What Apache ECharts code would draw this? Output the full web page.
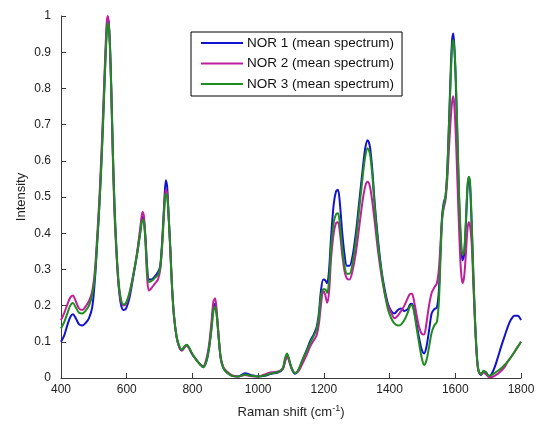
<!DOCTYPE html>
<html>
<head>
<meta charset="utf-8">
<script src="https://cdn.jsdelivr.net/npm/echarts@6/dist/echarts.min.js"></script>
<style>
html,body{margin:0;padding:0;background:#fff;}
#chart{width:547px;height:425px;}
</style>
</head>
<body>
<div id="chart"></div>
<script>
// Raman shift positions (cm^-1)
var shifts = [400,410,420,428,436,445,455,465,475,485,495,503,510,517,524,530,535,539,542,545,549,553,558,563,569,575,582,590,598,608,620,632,642,648,652,657,662,667,675,685,695,702,708,714,719,723,728,733,738,744,752,760,768,776,783,790,800,812,823,833,843,851,858,864,869,874,880,886,894,905,920,940,960,980,1000,1020,1040,1060,1075,1082,1088,1094,1102,1112,1122,1135,1148,1160,1170,1178,1185,1191,1198,1204,1210,1216,1222,1230,1237,1243,1249,1256,1263,1270,1278,1288,1298,1308,1318,1326,1333,1340,1347,1355,1365,1375,1385,1395,1405,1415,1425,1435,1445,1455,1462,1468,1474,1482,1490,1498,1505,1512,1520,1528,1536,1544,1550,1555,1560,1565,1570,1575,1580,1585,1590,1594,1598,1602,1607,1612,1617,1622,1627,1632,1637,1641,1645,1650,1655,1660,1665,1670,1678,1686,1694,1702,1710,1720,1730,1740,1750,1760,1770,1780,1790,1800];

var nor1 = [0.100,0.118,0.148,0.168,0.176,0.165,0.148,0.145,0.152,0.165,0.195,0.270,0.370,0.480,0.620,0.760,0.880,0.960,0.990,0.985,0.920,0.800,0.620,0.470,0.350,0.260,0.205,0.188,0.192,0.220,0.280,0.345,0.410,0.445,0.440,0.390,0.310,0.272,0.272,0.280,0.292,0.310,0.380,0.480,0.546,0.530,0.440,0.350,0.250,0.170,0.112,0.085,0.076,0.086,0.091,0.082,0.065,0.050,0.038,0.030,0.048,0.085,0.140,0.195,0.205,0.175,0.110,0.055,0.028,0.015,0.006,0.004,0.013,0.008,0.004,0.006,0.012,0.015,0.025,0.050,0.066,0.050,0.025,0.012,0.020,0.050,0.078,0.105,0.122,0.140,0.180,0.240,0.272,0.270,0.262,0.300,0.390,0.480,0.515,0.520,0.480,0.400,0.340,0.310,0.310,0.340,0.405,0.490,0.575,0.635,0.657,0.640,0.580,0.480,0.380,0.300,0.245,0.205,0.185,0.178,0.188,0.192,0.185,0.190,0.203,0.205,0.190,0.150,0.110,0.078,0.068,0.085,0.130,0.178,0.190,0.195,0.240,0.350,0.450,0.485,0.500,0.560,0.680,0.820,0.930,0.952,0.900,0.800,0.640,0.480,0.370,0.325,0.340,0.420,0.520,0.555,0.530,0.420,0.280,0.160,0.070,0.022,0.008,0.018,0.015,0.005,0.010,0.030,0.058,0.088,0.115,0.142,0.162,0.172,0.172,0.160];

var nor2 = [0.160,0.180,0.205,0.222,0.228,0.212,0.192,0.188,0.198,0.212,0.240,0.295,0.390,0.500,0.640,0.780,0.900,0.980,1.000,0.985,0.910,0.790,0.600,0.450,0.340,0.260,0.215,0.200,0.205,0.230,0.285,0.350,0.420,0.459,0.450,0.380,0.280,0.242,0.248,0.260,0.272,0.300,0.370,0.470,0.520,0.510,0.440,0.350,0.250,0.170,0.112,0.085,0.076,0.085,0.090,0.082,0.065,0.050,0.038,0.033,0.055,0.095,0.155,0.212,0.220,0.185,0.115,0.058,0.030,0.018,0.008,0.004,0.008,0.005,0.004,0.010,0.016,0.018,0.025,0.045,0.060,0.048,0.028,0.014,0.018,0.040,0.065,0.090,0.105,0.118,0.150,0.200,0.240,0.230,0.208,0.240,0.330,0.400,0.428,0.430,0.400,0.340,0.295,0.275,0.272,0.300,0.350,0.420,0.490,0.530,0.542,0.530,0.490,0.430,0.350,0.285,0.235,0.200,0.180,0.165,0.172,0.185,0.200,0.220,0.232,0.233,0.215,0.175,0.140,0.122,0.120,0.150,0.200,0.235,0.250,0.262,0.300,0.370,0.440,0.470,0.490,0.540,0.620,0.700,0.760,0.778,0.740,0.660,0.530,0.400,0.300,0.262,0.280,0.340,0.410,0.430,0.420,0.370,0.260,0.150,0.065,0.022,0.010,0.015,0.010,0.003,0.003,0.006,0.012,0.020,0.030,0.046,0.058,0.072,0.086,0.100];

var nor3 = [0.137,0.155,0.180,0.200,0.207,0.195,0.180,0.178,0.186,0.200,0.230,0.280,0.375,0.480,0.610,0.750,0.870,0.950,0.980,0.975,0.920,0.800,0.620,0.470,0.350,0.270,0.220,0.203,0.208,0.235,0.285,0.345,0.405,0.437,0.432,0.380,0.300,0.265,0.268,0.276,0.285,0.305,0.370,0.460,0.510,0.505,0.440,0.350,0.250,0.170,0.114,0.088,0.078,0.088,0.092,0.084,0.066,0.050,0.038,0.030,0.048,0.085,0.135,0.185,0.197,0.172,0.110,0.055,0.028,0.015,0.006,0.004,0.010,0.006,0.004,0.007,0.013,0.016,0.028,0.055,0.068,0.052,0.027,0.013,0.022,0.050,0.075,0.100,0.118,0.135,0.170,0.225,0.245,0.245,0.235,0.270,0.360,0.430,0.452,0.455,0.425,0.360,0.310,0.288,0.288,0.320,0.385,0.470,0.555,0.612,0.635,0.620,0.565,0.470,0.370,0.295,0.235,0.190,0.165,0.150,0.145,0.148,0.160,0.180,0.198,0.202,0.185,0.140,0.095,0.055,0.036,0.048,0.085,0.125,0.145,0.155,0.210,0.330,0.440,0.480,0.500,0.560,0.680,0.800,0.910,0.934,0.900,0.820,0.660,0.500,0.390,0.340,0.350,0.430,0.530,0.556,0.540,0.430,0.290,0.165,0.075,0.025,0.010,0.020,0.015,0.006,0.008,0.014,0.020,0.027,0.036,0.046,0.058,0.072,0.086,0.100];

var seriesNames = ['NOR 1 (mean spectrum)', 'NOR 2 (mean spectrum)', 'NOR 3 (mean spectrum)'];
var seriesColors = ['#1212cc', '#bf1f9c', '#1e8c1e'];
var xTicks = [400, 600, 800, 1000, 1200, 1400, 1600, 1800];
var yTicks = [0, 0.1, 0.2, 0.3, 0.4, 0.5, 0.6, 0.7, 0.8, 0.9, 1];

function pairs(vals) { return shifts.map(function (x, i) { return [x, vals[i]]; }); }

var font = 'Liberation Sans, Arial, sans-serif';
var axisColor = '#3a3a3a';
var chart = echarts.init(document.getElementById('chart'), null, {renderer: 'canvas'});
chart.setOption({
  animation: false,
  backgroundColor: '#ffffff',
  grid: {left: 61, right: 26, top: 16, bottom: 47, containLabel: false},
  legend: {
    orient: 'vertical',
    left: 191, top: 32,
    padding: [4, 8, 5, 9],
    itemWidth: 42, itemHeight: 14, itemGap: 6.5,
    borderColor: '#000', borderWidth: 1, backgroundColor: '#fff',
    itemStyle: {opacity: 0},
    lineStyle: {width: 2},
    textStyle: {fontFamily: font, fontSize: 13.5, color: '#111', padding: [0, 0, 0, -1]},
    data: seriesNames
  },
  xAxis: {
    type: 'value', min: xTicks[0], max: xTicks[xTicks.length - 1], interval: 200,
    name: 'Raman shift (cm{sup|-1})', nameLocation: 'middle', nameGap: 26,
    nameMoveOverlap: false,
    nameTextStyle: {fontFamily: font, fontSize: 13, color: '#222',
      rich: {sup: {fontFamily: font, fontSize: 9, color: '#222', verticalAlign: 'top', padding: [0, 0, 8, 0]}}},
    axisLine: {show: true, lineStyle: {color: axisColor, width: 1}},
    axisTick: {show: true, inside: true, length: 5, lineStyle: {color: axisColor}},
    axisLabel: {fontFamily: font, fontSize: 12, color: '#222', margin: 6,
      formatter: function (v) { return String(v); }},
    splitLine: {show: false}
  },
  yAxis: {
    type: 'value', min: yTicks[0], max: yTicks[yTicks.length - 1], interval: 0.1,
    name: 'Intensity', nameLocation: 'middle', nameGap: 33, nameRotate: 90,
    nameMoveOverlap: false,
    nameTextStyle: {fontFamily: font, fontSize: 13, color: '#222'},
    axisLine: {show: true, lineStyle: {color: axisColor, width: 1}},
    axisTick: {show: true, inside: true, length: 5, lineStyle: {color: axisColor}},
    axisLabel: {fontFamily: font, fontSize: 12, color: '#222', margin: 10,
      formatter: function (v) { return String(Math.round(v * 10) / 10); }},
    splitLine: {show: false}
  },
  series: [nor1, nor2, nor3].map(function (vals, k) {
    return {
      name: seriesNames[k], type: 'line', data: pairs(vals),
      symbol: 'none', smooth: 0.3, clip: true,
      lineStyle: {color: seriesColors[k], width: 2},
      itemStyle: {color: seriesColors[k]}
    };
  })
});
</script>
</body>
</html>
